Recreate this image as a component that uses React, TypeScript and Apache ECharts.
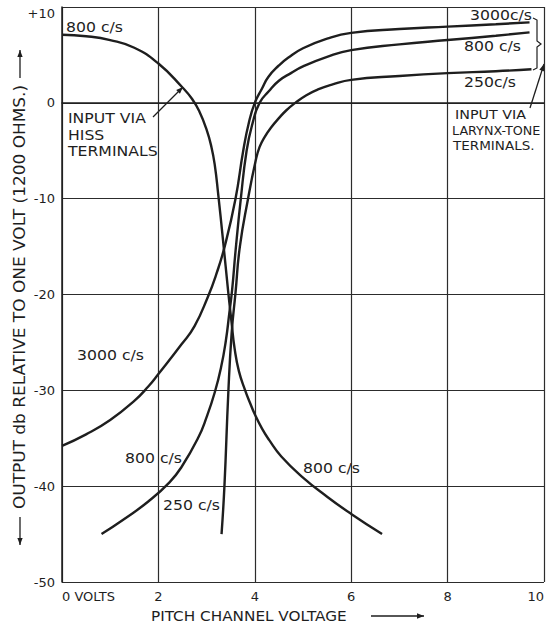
import React, { useEffect, useRef } from "react";
import * as echarts from "echarts";

// Axis ticks
const xTickValues = [0, 2, 4, 6, 8, 10];
const yTickValues = [-50, -40, -30, -20, -10, 0, 10];

// Input via hiss terminals, 800 c/s  [pitch channel volts, dB]
const hiss800: [number, number][] = [
  [0, 7.1], [0.5, 6.95], [1, 6.55], [1.5, 5.75], [2, 4.1], [2.5, 1.6], [2.7, 0.4],
  [2.85, -0.9], [3.0, -2.8], [3.1, -4.6], [3.17, -6.5], [3.24, -9.5], [3.34, -14.3],
  [3.45, -19.8], [3.52, -23], [3.58, -25.6], [3.67, -28.0], [3.8, -30.0], [3.9, -31.3],
  [4.0, -32.5], [4.15, -34.0], [4.3, -35.2], [4.55, -36.9], [5, -39.1], [5.5, -41.1],
  [6, -42.9], [6.64, -45],
];

// Input via larynx-tone terminals
const larynx3000: [number, number][] = [
  [0, -35.8], [0.5, -34.6], [1, -33.1], [1.5, -31.1], [1.79, -29.6], [2, -28.3],
  [2.48, -25.2], [2.75, -23.3], [3.03, -20.2], [3.2, -17.9], [3.38, -14.9], [3.6, -10],
  [3.76, -5], [3.88, -2], [4.0, 0], [4.15, 1.5], [4.28, 2.7], [4.5, 3.9], [4.69, 4.7],
  [5, 5.7], [5.5, 6.7], [6, 7.3], [7, 7.7], [8, 7.95], [9, 8.2], [9.7, 8.4],
];
const larynx800: [number, number][] = [
  [0.82, -45], [1.3, -43.4], [1.79, -41.6], [2.23, -39.6], [2.48, -38], [2.83, -34.9],
  [3.0, -32.8], [3.17, -30.2], [3.3, -27.6], [3.4, -24.8], [3.47, -22], [3.53, -19.5],
  [3.6, -15.5], [3.71, -10], [3.83, -5], [3.95, -2.2], [4.1, 0], [4.29, 1.2], [4.5, 2.3],
  [4.75, 3.1], [5, 3.8], [5.5, 4.8], [6, 5.5], [7, 6.1], [8, 6.55], [9, 7.0], [9.7, 7.35],
];
const larynx250: [number, number][] = [
  [3.31, -45], [3.37, -40], [3.45, -30.3], [3.52, -24], [3.6, -19.8], [3.69, -15],
  [3.86, -10], [4.02, -6], [4.1, -4.6], [4.2, -3.6], [4.35, -2.5], [4.5, -1.6],
  [4.65, -0.8], [4.84, 0], [5.07, 0.8], [5.31, 1.4], [5.6, 1.9], [6, 2.4], [7, 2.8],
  [8, 3.1], [9, 3.3], [9.74, 3.5],
];

const FONT = "DejaVu Sans";
const INK = "#1e1e1e";

function label(text: string, x: number, y: number, size = 14, sx = 1.12) {
  return {
    type: "text",
    x,
    y,
    scaleX: sx,
    style: { text, fontFamily: FONT, fontSize: size, fill: INK, verticalAlign: "middle", align: "left" },
  };
}

function arrow(x1: number, y1: number, x2: number, y2: number, head = 7, w = 1.3) {
  const a = Math.atan2(y2 - y1, x2 - x1);
  const hx1 = x2 - head * Math.cos(a) + head * 0.38 * Math.sin(a);
  const hy1 = y2 - head * Math.sin(a) - head * 0.38 * Math.cos(a);
  const hx2 = x2 - head * Math.cos(a) - head * 0.38 * Math.sin(a);
  const hy2 = y2 - head * Math.sin(a) + head * 0.38 * Math.cos(a);
  return [
    { type: "line", shape: { x1, y1, x2, y2 }, style: { stroke: INK, lineWidth: w } },
    { type: "polygon", shape: { points: [[x2, y2], [hx1, hy1], [hx2, hy2]] }, style: { fill: INK } },
  ];
}

function curve(name: string, data: [number, number][]) {
  return {
    name,
    type: "line",
    data,
    showSymbol: false,
    smooth: 0.5,
    lineStyle: { color: INK, width: 2.4 },
    silent: true,
  };
}

export default function App() {
  const ref = useRef<HTMLDivElement>(null);
  useEffect(() => {
    document.body.style.margin = "0";
    const chart = echarts.init(ref.current!, undefined, { renderer: "svg" });
    const option: any = {
      animation: false,
      backgroundColor: "#ffffff",
      grid: { left: 62, right: 0, top: 7, bottom: 43 },
      xAxis: {
        type: "value",
        min: xTickValues[0],
        max: xTickValues[xTickValues.length - 1],
        interval: 2,
        axisLine: { show: true, lineStyle: { color: INK, width: 1.5 } },
        axisTick: { show: false },
        splitLine: { show: true, lineStyle: { color: "#2c2c2c", width: 1.2 } },
        axisLabel: {
          formatter: (v: number) => (v === 0 ? "0 VOLTS" : String(v)),
          fontFamily: FONT,
          fontSize: 13,
          color: INK,
          margin: 8,
          alignMinLabel: "left",
          alignMaxLabel: "right",
        },
      },
      yAxis: {
        type: "value",
        min: yTickValues[0],
        max: yTickValues[yTickValues.length - 1],
        interval: 10,
        axisLine: { show: true, lineStyle: { color: INK, width: 1.5 } },
        axisTick: { show: false },
        splitLine: { show: true, lineStyle: { color: "#2c2c2c", width: 1.2 } },
        axisLabel: {
          formatter: (v: number) => (v > 0 ? "+" + v : String(v)),
          fontFamily: FONT,
          fontSize: 13,
          color: INK,
          margin: 7,
          verticalAlignMaxLabel: "top",
        },
      },
      series: [
        curve("800 c/s hiss", hiss800),
        curve("3000 c/s", larynx3000),
        curve("800 c/s", larynx800),
        curve("250 c/s", larynx250),
      ],
      graphic: [
        label("800 c/s", 66, 27),
        label("INPUT VIA", 68, 118),
        label("HISS", 68, 135),
        label("TERMINALS", 68, 151),
        ...arrow(153, 117, 183, 87),
        label("3000 c/s", 77, 355),
        label("800 c/s", 125, 458),
        label("250 c/s", 163, 505),
        label("800 c/s", 303, 468),
        label("3000c/s", 470, 15),
        label("800 c/s", 464, 46),
        label("250c/s", 464, 82),
        label("INPUT VIA", 455, 114, 13, 1.1),
        label("LARYNX-TONE", 452, 130, 13, 0.98),
        label("TERMINALS.", 453, 146, 13, 1.04),
        {
          type: "polyline",
          shape: { points: [[533, 18], [537, 20], [537, 41], [541, 44], [537, 47], [537, 68], [533, 70]] },
          style: { stroke: INK, lineWidth: 1.2, fill: "none" },
        },
        ...arrow(530, 108, 544, 64),
        {
          type: "text",
          x: 20,
          y: 297,
          rotation: Math.PI / 2,
          scaleX: 1.13,
          style: {
            text: "OUTPUT db RELATIVE TO ONE VOLT (1200 OHMS.)",
            fontFamily: FONT,
            fontSize: 15,
            fill: INK,
            align: "center",
            verticalAlign: "middle",
          },
        },
        ...arrow(20, 78, 20, 50),
        ...arrow(20, 517, 20, 545),
        label("PITCH CHANNEL VOLTAGE", 151, 616, 14, 1.09),
        ...arrow(371, 616, 424, 616),
      ],
    };
    chart.setOption(option);
    return () => chart.dispose();
  }, []);
  return <div ref={ref} style={{ width: 547, height: 625 }} />;
}
